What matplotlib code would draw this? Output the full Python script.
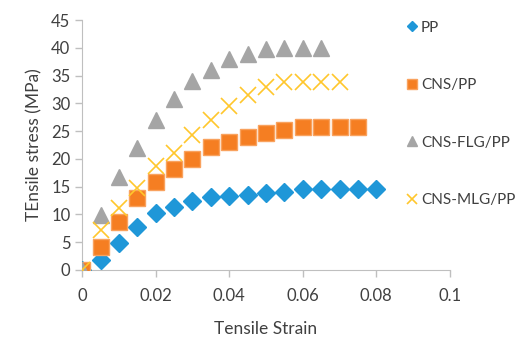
import matplotlib.pyplot as plt
import numpy as np

plt.rcParams['font.family'] = ['Lato', 'DejaVu Sans']

strain = [0, 0.005, 0.01, 0.015, 0.02, 0.025, 0.03, 0.035, 0.04, 0.045,
          0.05, 0.055, 0.06, 0.065, 0.07, 0.075, 0.08]

pp = [0, 1.8, 4.9, 7.8, 10.2, 11.4, 12.5, 13.2, 13.3, 13.5,
      13.9, 14.1, 14.5, 14.5, 14.5, 14.5, 14.5]
cns_pp = [0, 4.1, 8.6, 13, 15.8, 18.2, 20, 22.2, 23, 24,
          24.7, 25.2, 25.7, 25.7, 25.7, 25.7]
cns_flg = [0, 9.9, 16.8, 22, 27, 30.8, 34, 36, 38, 38.9,
           39.7, 40, 40, 40]
cns_mlg = [0, 7.2, 11.1, 14.8, 18.8, 21, 24.3, 27, 29.5, 31.5,
           33, 33.8, 33.8, 33.8, 33.8]

fig = plt.figure(figsize=(5.17, 3.40), dpi=100)
ax = fig.add_axes([0.159, 0.206, 0.711, 0.735])

ax.plot(strain[:len(pp)], pp, 'D', color='#1F97D8', markersize=9, label='PP', zorder=3)
ax.plot(strain[:len(cns_pp)], cns_pp, 's', color='#F57E22', mec='#F9A25E', markersize=11, label='CNS/PP', zorder=3)
ax.plot(strain[:len(cns_flg)], cns_flg, '^', color='#A5A5A5', markersize=12, label='CNS-FLG/PP', zorder=3)
ax.plot(strain[:len(cns_mlg)], cns_mlg, 'x', color='#FFC72C', markersize=12, mew=1.2, label='CNS-MLG/PP', zorder=4)

ax.set_xlim(0, 0.1)
ax.set_ylim(0, 45)
ax.set_xticks([0, 0.02, 0.04, 0.06, 0.08, 0.1])
ax.set_xticklabels(['0', '0.02', '0.04', '0.06', '0.08', '0.1'])
ax.set_yticks(range(0, 46, 5))
ax.tick_params(colors='#BFBFBF', labelcolor='#404040', labelsize=12, length=5, width=1)
ax.tick_params(axis='x', pad=8)
for s in ['top', 'right']:
    ax.spines[s].set_visible(False)
for s in ['left', 'bottom']:
    ax.spines[s].set_color('#BFBFBF')
ax.set_xlabel('Tensile Strain', fontsize=12.5, color='#404040', labelpad=12)
ax.set_ylabel('TEnsile stress (MPa)', fontsize=12.5, color='#404040', labelpad=6)
ax.patch.set_alpha(0)

fig.legend(loc='upper left', bbox_to_anchor=(0.755, 0.98), frameon=False,
           fontsize=11, labelcolor='#404040', markerscale=0.6,
           handletextpad=0.1, labelspacing=2.85, handlelength=1.0)

fig.savefig('out.png', dpi=100)
